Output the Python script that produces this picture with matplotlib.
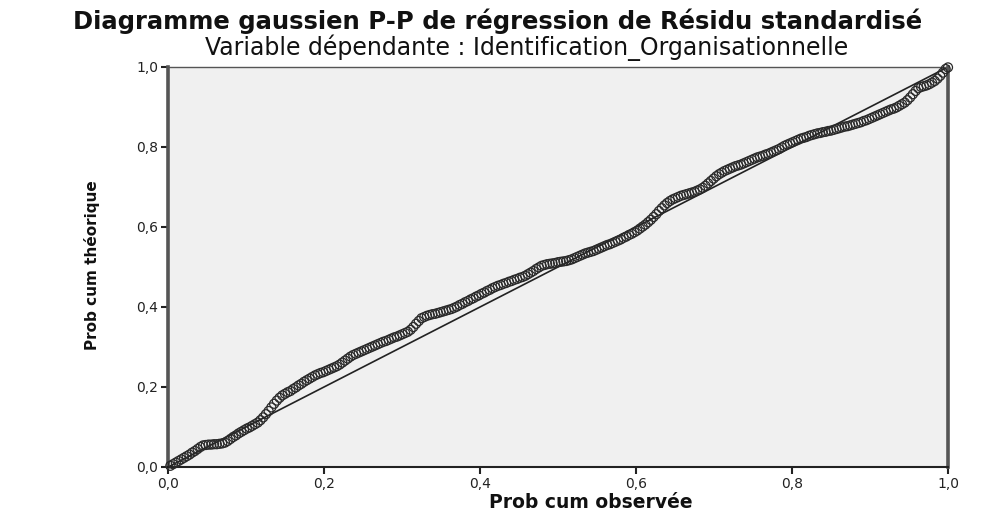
import matplotlib
matplotlib.use('Agg')
import matplotlib.pyplot as plt
from matplotlib.ticker import FuncFormatter

# DATA ######
# probabilite cumulee observee (x) / theorique (y), lues sur le graphique
prob_obs = [0.003, 0.0065, 0.010, 0.0135, 0.017, 0.0205, 0.024, 0.0275, 0.031, 0.0345,
            0.038, 0.0415, 0.045, 0.0485, 0.052, 0.0555, 0.059, 0.0625, 0.066, 0.0695,
            0.073, 0.0765, 0.080, 0.0835, 0.087, 0.0905, 0.094, 0.0975, 0.101, 0.1045,
            0.108, 0.1115, 0.115, 0.1185, 0.122, 0.1255, 0.129, 0.1325, 0.136, 0.1395,
            0.143, 0.1465, 0.150, 0.1535, 0.157, 0.1605, 0.164, 0.1675, 0.171, 0.1745,
            0.178, 0.1815, 0.185, 0.1885, 0.192, 0.1955, 0.199, 0.2025, 0.206, 0.2095,
            0.213, 0.2165, 0.220, 0.2235, 0.227, 0.2305, 0.234, 0.2375, 0.241, 0.2445,
            0.248, 0.2515, 0.255, 0.2585, 0.262, 0.2655, 0.269, 0.2725, 0.276, 0.2795,
            0.283, 0.2865, 0.290, 0.2935, 0.297, 0.3005, 0.304, 0.3075, 0.311, 0.3145,
            0.318, 0.3215, 0.325, 0.3285, 0.332, 0.3355, 0.339, 0.3425, 0.346, 0.3495,
            0.353, 0.3565, 0.360, 0.3635, 0.367, 0.3705, 0.374, 0.3775, 0.381, 0.3845,
            0.388, 0.3915, 0.395, 0.3985, 0.402, 0.4055, 0.409, 0.4125, 0.416, 0.4195,
            0.423, 0.4265, 0.430, 0.4335, 0.437, 0.4405, 0.444, 0.4475, 0.451, 0.4545,
            0.458, 0.4615, 0.465, 0.4685, 0.472, 0.4755, 0.479, 0.4825, 0.486, 0.4895,
            0.493, 0.4965, 0.500, 0.5035, 0.507, 0.5105, 0.514, 0.5175, 0.521, 0.5245,
            0.528, 0.5315, 0.535, 0.5385, 0.542, 0.5455, 0.549, 0.5525, 0.556, 0.5595,
            0.563, 0.5665, 0.570, 0.5735, 0.577, 0.5805, 0.584, 0.5875, 0.591, 0.5945,
            0.598, 0.6015, 0.605, 0.6085, 0.612, 0.6155, 0.619, 0.6225, 0.626, 0.6295,
            0.633, 0.6365, 0.640, 0.6435, 0.647, 0.6505, 0.654, 0.6575, 0.661, 0.6645,
            0.668, 0.6715, 0.675, 0.6785, 0.682, 0.6855, 0.689, 0.6925, 0.696, 0.6995,
            0.703, 0.7065, 0.710, 0.7135, 0.717, 0.7205, 0.724, 0.7275, 0.731, 0.7345,
            0.738, 0.7415, 0.745, 0.7485, 0.752, 0.7555, 0.759, 0.7625, 0.766, 0.7695,
            0.773, 0.7765, 0.780, 0.7835, 0.787, 0.7905, 0.794, 0.7975, 0.801, 0.8045,
            0.808, 0.8115, 0.815, 0.8185, 0.822, 0.8255, 0.829, 0.8325, 0.836, 0.8395,
            0.843, 0.8465, 0.850, 0.8535, 0.857, 0.8605, 0.864, 0.8675, 0.871, 0.8745,
            0.878, 0.8815, 0.885, 0.8885, 0.892, 0.8955, 0.899, 0.9025, 0.906, 0.9095,
            0.913, 0.9165, 0.920, 0.9235, 0.927, 0.9305, 0.934, 0.9375, 0.941, 0.9445,
            0.948, 0.9515, 0.955, 0.9585, 0.962, 0.9655, 0.969, 0.9725, 0.976, 0.9795,
            0.983, 0.9865, 0.990, 0.9935, 0.997, 1.000]
prob_theo = [0.003, 0.007, 0.011, 0.015, 0.019, 0.023, 0.027, 0.031, 0.036, 0.040,
             0.045, 0.050, 0.054, 0.055, 0.056, 0.056, 0.057, 0.057, 0.058, 0.059,
             0.061, 0.065, 0.070, 0.075, 0.079, 0.084, 0.088, 0.092, 0.096, 0.099,
             0.103, 0.107, 0.111, 0.117, 0.124, 0.132, 0.140, 0.149, 0.158, 0.166,
             0.173, 0.179, 0.183, 0.187, 0.190, 0.195, 0.199, 0.204, 0.208, 0.213,
             0.217, 0.221, 0.225, 0.229, 0.232, 0.235, 0.237, 0.240, 0.243, 0.246,
             0.249, 0.252, 0.256, 0.261, 0.266, 0.271, 0.276, 0.280, 0.283, 0.286,
             0.289, 0.292, 0.295, 0.298, 0.301, 0.304, 0.307, 0.310, 0.313, 0.315,
             0.318, 0.321, 0.324, 0.326, 0.329, 0.332, 0.335, 0.338, 0.343, 0.350,
             0.358, 0.365, 0.372, 0.375, 0.378, 0.380, 0.382, 0.383, 0.385, 0.387,
             0.389, 0.391, 0.393, 0.395, 0.398, 0.401, 0.405, 0.408, 0.412, 0.415,
             0.419, 0.422, 0.426, 0.429, 0.433, 0.436, 0.440, 0.443, 0.447, 0.450,
             0.453, 0.455, 0.458, 0.460, 0.463, 0.465, 0.468, 0.470, 0.473, 0.475,
             0.478, 0.482, 0.486, 0.490, 0.495, 0.499, 0.503, 0.505, 0.507, 0.508,
             0.509, 0.510, 0.512, 0.513, 0.514, 0.515, 0.517, 0.519, 0.522, 0.525,
             0.528, 0.531, 0.534, 0.536, 0.538, 0.540, 0.543, 0.546, 0.549, 0.552,
             0.555, 0.557, 0.560, 0.563, 0.566, 0.569, 0.573, 0.576, 0.580, 0.583,
             0.587, 0.591, 0.596, 0.601, 0.606, 0.612, 0.618, 0.625, 0.632, 0.640,
             0.647, 0.654, 0.660, 0.665, 0.669, 0.672, 0.675, 0.678, 0.680, 0.682,
             0.684, 0.686, 0.688, 0.691, 0.694, 0.698, 0.703, 0.709, 0.715, 0.721,
             0.727, 0.732, 0.736, 0.740, 0.743, 0.746, 0.749, 0.752, 0.754, 0.756,
             0.759, 0.762, 0.765, 0.768, 0.771, 0.774, 0.776, 0.778, 0.781, 0.783,
             0.786, 0.789, 0.792, 0.795, 0.799, 0.803, 0.806, 0.809, 0.812, 0.815,
             0.818, 0.821, 0.823, 0.825, 0.828, 0.830, 0.832, 0.834, 0.835, 0.837,
             0.838, 0.840, 0.841, 0.843, 0.845, 0.847, 0.849, 0.851, 0.852, 0.854,
             0.856, 0.858, 0.860, 0.862, 0.865, 0.867, 0.870, 0.873, 0.876, 0.879,
             0.882, 0.885, 0.888, 0.891, 0.894, 0.896, 0.899, 0.903, 0.907, 0.911,
             0.917, 0.924, 0.932, 0.940, 0.947, 0.950, 0.952, 0.954, 0.957, 0.961,
             0.965, 0.971, 0.978, 0.986, 0.995, 0.999]
ticks = [0.0, 0.2, 0.4, 0.6, 0.8, 1.0]

titre = 'Diagramme gaussien P-P de régression de Résidu standardisé'
sous_titre = 'Variable dépendante : Identification_Organisationnelle'

# PLOT ######
plt.rcParams['font.family'] = ['DejaVu Sans']
fig = plt.figure(figsize=(9.97, 5.12), dpi=100)
ax = fig.add_axes([168/997, 1-467/512, 780/997, 400/512])
ax.set_facecolor('#f0f0f0')

ax.plot([0, 1], [0, 1], color='#222222', linewidth=1.2, zorder=2)
ax.scatter(prob_obs, prob_theo, s=42, facecolors='none', edgecolors='#2a2a2a',
           linewidths=0.9, zorder=3, clip_on=False)

ax.set_xlim(0, 1)
ax.set_ylim(0, 1)
ax.set_xticks(ticks)
ax.set_yticks(ticks)
fmt = FuncFormatter(lambda v, p: '{:.1f}'.format(v).replace('.', ','))
ax.xaxis.set_major_formatter(fmt)
ax.yaxis.set_major_formatter(fmt)
ax.tick_params(axis='both', direction='out', length=5, width=1.5, color='#222222',
               labelsize=10, labelcolor='#222222', pad=2)

for side in ['left', 'right']:
    ax.spines[side].set_linewidth(2.6)
    ax.spines[side].set_color('#555555')
ax.spines['top'].set_linewidth(1.0)
ax.spines['top'].set_color('#555555')
ax.spines['bottom'].set_linewidth(1.5)
ax.spines['bottom'].set_color('#222222')

fig.text(498/997, 1-21/512, titre, ha='center', va='center', fontsize=17.5,
         fontweight='bold', color='#111111')
fig.text(527/997, 1-48/512, sous_titre, ha='center', va='center', fontsize=17,
         color='#111111')
fig.text(591/997, 1-502/512, 'Prob cum observée', ha='center', va='center',
         fontsize=13.5, fontweight='bold', color='#111111')
fig.text(92/997, 1-265/512, 'Prob cum théorique', ha='center', va='center',
         rotation=90, fontsize=11, fontweight='bold', color='#111111')

fig.savefig('out.png', dpi=100)
